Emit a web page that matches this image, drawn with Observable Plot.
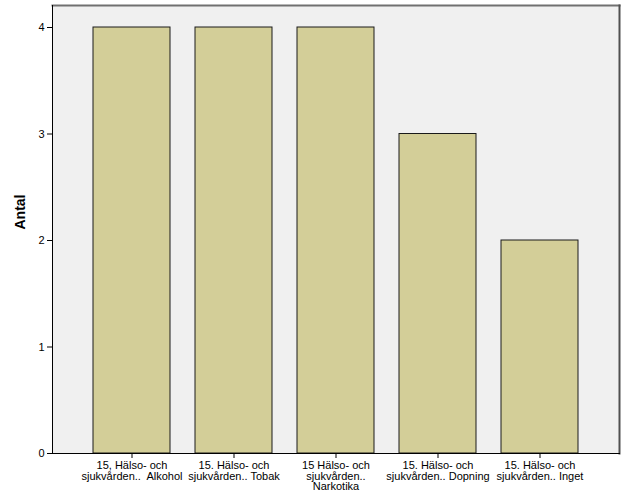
<!DOCTYPE html>
<html><head><meta charset="utf-8">
<script src="https://cdn.jsdelivr.net/npm/d3@7"></script>
<script src="https://cdn.jsdelivr.net/npm/@observablehq/plot@0.6"></script>
<style>body{margin:0;background:#fff;font-family:"Liberation Sans",Arial,sans-serif}</style>
</head><body><div id="chart"></div>
<script>
const categories = ["Alkohol", "Tobak", "Narkotika", "Dopning", "Inget"];
const tickLabels = [
  "15, Hälso- och\nsjukvården..  Alkohol",
  "15. Hälso- och\nsjukvården.. Tobak",
  "15 Hälso- och\nsjukvården..\nNarkotika",
  "15. Hälso- och\nsjukvården.. Dopning",
  "15. Hälso- och\nsjukvården.. Inget"
];
const counts = [4, 4, 4, 3, 2];
const yTicks = [0, 1, 2, 3, 4];
const yTitle = "Antal";

const data = categories.map((c, i) => ({cat: c, label: tickLabels[i], n: counts[i]}));
const labelOf = new Map(categories.map((c, i) => [c, tickLabels[i]]));

const chart = Plot.plot({
  width: 626, height: 501,
  marginLeft: 52, marginRight: 7, marginTop: 5, marginBottom: 48,
  style: {fontFamily: '"Liberation Sans", Arial, sans-serif', fontSize: "11px", background: "#fff", color: "#000"},
  x: {domain: categories, paddingInner: 0.245, paddingOuter: 0.39, label: null},
  y: {domain: [0, 4.2066], label: null},
  marks: [
    Plot.frame({fill: "#f0f0f0", stroke: "none"}),
    Plot.frame({anchor: "top", stroke: "#707070", strokeWidth: 2}),
    Plot.frame({anchor: "right", stroke: "#505050", strokeWidth: 2}),
    Plot.barY(data, {x: "cat", y: "n", fill: "#d3ce98", stroke: "#1a1a1a", strokeWidth: 1}),
    Plot.axisX({tickSize: 5, tickPadding: 3, tickFormat: d => labelOf.get(d), lineHeight: 0.97, fontSize: 11, label: null}),
    Plot.axisY({ticks: yTicks, tickFormat: d3.format("d"), tickSize: 5, tickPadding: 3, fontSize: 11, label: null}),
    Plot.frame({anchor: "left", stroke: "#000"}),
    Plot.frame({anchor: "bottom", stroke: "#000"}),
    Plot.text([yTitle], {frameAnchor: "left", rotate: -90, dx: -32, fontWeight: "bold", fontSize: 14, text: d => d})
  ]
});
document.getElementById("chart").appendChild(chart);
</script>
</body></html>
